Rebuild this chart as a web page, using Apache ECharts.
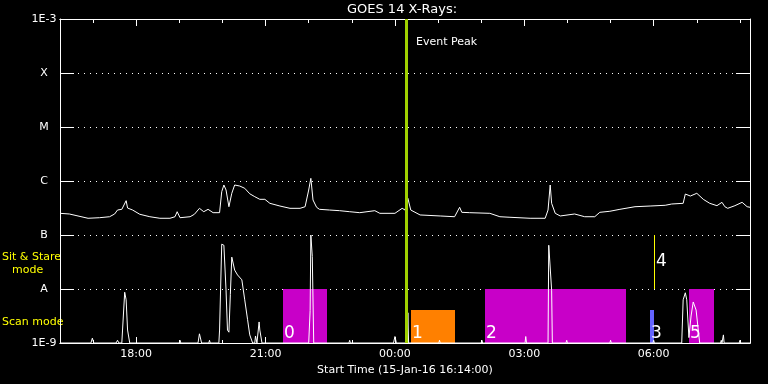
<!DOCTYPE html>
<html>
<head>
<meta charset="utf-8">
<script src="https://cdn.jsdelivr.net/npm/echarts@6/dist/echarts.min.js"></script>
<style>
html, body { margin: 0; padding: 0; background: #000; }
#main { width: 768px; height: 384px; }
</style>
</head>
<body>
<div id="main"></div>
<script>
// time window of the plot (15-Jan-16 16:14 -> 16-Jan-16 08:14)
const startTime = '16:14';
const endTime = '08:14';
const peakTime = '00:16';
const majorTicks = ['18:00', '21:00', '00:00', '03:00', '06:00'];
const hourTicks = ['17:00', '18:00', '19:00', '20:00', '21:00', '22:00', '23:00', '00:00',
    '01:00', '02:00', '03:00', '04:00', '05:00', '06:00', '07:00', '08:00'];
const levelLabels = ['1E-9', 'A', 'B', 'C', 'M', 'X', '1E-3'];

// GOES long channel flux (W/m2)
const fluxTimes = ['16:14', '16:27', '16:53', '17:09', '17:23', '17:30', '17:34', '17:40', '17:46', '17:48',
    '17:55', '18:05', '18:19', '18:33', '18:47', '18:54', '18:57', '19:01', '19:15', '19:21',
    '19:28', '19:34', '19:40', '19:47', '19:56', '19:59', '20:02', '20:05', '20:09', '20:13',
    '20:17', '20:24', '20:31', '20:38', '20:45', '20:52', '20:59', '21:06', '21:20', '21:34',
    '21:48', '21:55', '22:00', '22:03', '22:06', '22:11', '22:15', '22:29', '22:43', '22:57',
    '23:11', '23:32', '23:39', '00:00', '00:10', '00:14', '00:18', '00:22', '00:35', '01:03',
    '01:23', '01:30', '01:33', '01:44', '02:12', '02:26', '02:40', '03:08', '03:29', '03:33',
    '03:36', '03:38', '03:43', '03:50', '04:10', '04:24', '04:38', '04:45', '04:59', '05:13',
    '05:34', '05:55', '06:16', '06:25', '06:41', '06:44', '06:51', '07:00', '07:09', '07:18',
    '07:28', '07:35', '07:39', '07:43', '07:53', '08:03', '08:10', '08:14'];
const fluxValues = [2.52e-7, 2.45e-7, 2.04e-7, 2.09e-7, 2.18e-7, 2.45e-7, 2.90e-7, 2.99e-7, 4.32e-7, 3.16e-7,
    2.90e-7, 2.42e-7, 2.18e-7, 2.04e-7, 2.04e-7, 2.18e-7, 2.70e-7, 2.09e-7, 2.18e-7, 2.42e-7,
    3.12e-7, 2.70e-7, 2.99e-7, 2.59e-7, 2.59e-7, 6.34e-7, 8.43e-7, 6.81e-7, 3.34e-7, 5.92e-7,
    8.43e-7, 8.07e-7, 7.33e-7, 5.80e-7, 5.12e-7, 4.58e-7, 4.58e-7, 3.86e-7, 3.44e-7, 3.12e-7,
    3.12e-7, 3.34e-7, 6.81e-7, 1.12e-6, 4.45e-7, 3.26e-7, 2.99e-7, 2.90e-7, 2.82e-7, 2.70e-7,
    2.59e-7, 2.82e-7, 2.52e-7, 2.52e-7, 3.12e-7, 2.90e-7, 4.78e-7, 2.90e-7, 2.35e-7, 2.25e-7,
    2.18e-7, 3.26e-7, 2.63e-7, 2.59e-7, 2.52e-7, 2.18e-7, 2.13e-7, 2.04e-7, 2.04e-7, 2.90e-7,
    8.43e-7, 3.86e-7, 2.52e-7, 2.25e-7, 2.45e-7, 2.18e-7, 2.18e-7, 2.63e-7, 2.75e-7, 2.99e-7,
    3.34e-7, 3.44e-7, 3.55e-7, 3.75e-7, 3.86e-7, 5.74e-7, 5.27e-7, 5.92e-7, 4.58e-7, 3.86e-7,
    3.49e-7, 4.03e-7, 3.34e-7, 3.12e-7, 3.49e-7, 4.03e-7, 3.34e-7, 3.26e-7];

// lower trace, in decades above the 1E-9 floor
const lowTimes = ['16:14', '16:57', '16:59', '17:01', '17:32', '17:34', '17:36', '17:40', '17:41', '17:44',
    '17:46', '17:48', '17:51', '19:00', '19:01', '19:02', '19:26', '19:28', '19:31', '19:41',
    '19:42', '19:43', '19:55', '19:56', '19:59', '20:02', '20:05', '20:07', '20:09', '20:11',
    '20:13', '20:17', '20:21', '20:27', '20:31', '20:35', '20:38', '20:42', '20:45', '20:46',
    '20:48', '20:50', '20:51', '20:52', '20:55', '22:00', '22:02', '22:03', '22:05', '22:07',
    '22:56', '22:57', '22:58', '23:58', '00:00', '00:02', '00:17', '00:18', '00:19', '01:01',
    '01:02', '01:03', '02:00', '02:01', '02:02', '03:01', '03:02', '03:03', '03:33', '03:34',
    '03:36', '03:38', '03:39', '03:58', '03:59', '04:00', '04:59', '05:00', '05:01', '05:59',
    '06:00', '06:01', '06:39', '06:41', '06:44', '06:46', '06:49', '06:52', '06:55', '06:59',
    '07:02', '07:04', '07:33', '07:34', '07:35', '07:36', '07:37', '07:38', '07:59', '08:00',
    '08:01', '08:14'];
const lowValues = [0, 0, 0.09, 0, 0, 0.05, 0, 0, 0.24, 0.94,
    0.80, 0.24, 0, 0, 0.05, 0, 0, 0.17, 0, 0,
    0.05, 0, 0, 0.24, 1.83, 1.81, 0.98, 0.24, 0.2, 0.9,
    1.59, 1.35, 1.26, 1.17, 0.80, 0.43, 0.15, 0, 0, 0.13,
    0, 0, 0.39, 0.24, 0, 0, 0.6, 2.0, 1.6, 0,
    0, 0.05, 0, 0, 0.12, 0, 0, 0.56, 0, 0,
    0.05, 0, 0, 0.05, 0, 0, 0.12, 0, 0, 1.81,
    1.81, 0.98, 0, 0, 0.05, 0, 0, 0.05, 0, 0,
    0.05, 0, 0, 0.8, 0.93, 0.8, 0.1, 0.5, 0.76, 0.61,
    0.24, 0, 0, 0.05, 0, 0, 0.15, 0, 0, 0.05,
    0, 0];

// observing mode windows (0-5)
const modeStart = ['21:24', '00:22', '02:05', '05:55', '06:00', '06:49'];
const modeEnd = ['22:26', '01:24', '05:22', '06:00', '06:00', '07:24'];
const modeBottom = [0, 0, 0, 0, 1, 0];
const modeTop = [1, 0.61, 1, 0.61, 2, 1];
const modeLabels = ['0', '1', '2', '3', '4', '5'];
const modeColors = ['#c800c8', '#ff8000', '#c800c8', '#6464ff', '#ffff00', '#c800c8'];

const font = 'DejaVu Sans';

function t(s) {
    const p = s.split(':');
    const h = +p[0];
    const day = h < 16 ? 16 : 15;
    return Date.UTC(2016, 0, day, h, +p[1]);
}
function hhmm(v) {
    const d = new Date(v);
    return String(d.getUTCHours()).padStart(2, '0') + ':' + String(d.getUTCMinutes()).padStart(2, '0');
}
function timeAxis(position, ticks, len, labels) {
    return {
        type: 'value',
        position: position,
        min: t(startTime),
        max: t(endTime),
        axisLine: { show: true, lineStyle: { color: '#fff', width: 1 } },
        axisTick: { show: true, inside: true, length: len, customValues: ticks.map(t), lineStyle: { color: '#fff' } },
        axisLabel: labels ? {
            show: true, customValues: ticks.map(t), formatter: hhmm,
            color: '#fff', fontFamily: font, fontSize: 11, margin: 6
        } : { show: false },
        splitLine: { show: false }
    };
}

const chart = echarts.init(document.getElementById('main'));

const bottomMajor = timeAxis('bottom', majorTicks, 6, true);
bottomMajor.name = 'Start Time (15-Jan-16 16:14:00)';
bottomMajor.nameLocation = 'middle';
bottomMajor.nameGap = 20;
bottomMajor.nameTextStyle = { color: '#fff', fontFamily: font, fontSize: 11 };

const option = {
    backgroundColor: '#000',
    animation: false,
    grid: { left: 60, right: 18, top: 19, bottom: 41 },
    graphic: [
        { type: 'text', x: 402, y: 3, style: { text: 'GOES 14 X-Rays:', fill: '#fff', font: '13px ' + font, align: 'center' } },
        { type: 'text', left: 2, top: 252, style: { text: 'Sit & Stare', fill: '#ffff00', font: '11px ' + font } },
        { type: 'text', left: 12, top: 265, style: { text: 'mode', fill: '#ffff00', font: '11px ' + font } },
        { type: 'text', left: 2, top: 317, style: { text: 'Scan mode', fill: '#ffff00', font: '11px ' + font } },
        { type: 'text', left: 416, top: 37, style: { text: 'Event Peak', fill: '#ffffff', font: '11px ' + font } }
    ],
    xAxis: [
        bottomMajor,
        timeAxis('bottom', hourTicks, 3, false),
        timeAxis('top', majorTicks, 7, false),
        timeAxis('top', hourTicks, 4, false)
    ],
    yAxis: [
        {
            type: 'log', logBase: 10, min: 1e-9, max: 1e-3, splitNumber: 6, position: 'left',
            axisLine: { show: true, lineStyle: { color: '#fff' } },
            axisTick: { show: true, inside: true, length: 14, lineStyle: { color: '#fff' } },
            axisLabel: {
                color: '#fff', fontFamily: font, fontSize: 11, align: 'center', margin: 16,
                formatter: function (v) { return levelLabels[Math.round(Math.log10(v)) + 9]; }
            },
            splitLine: { show: true, lineStyle: { color: '#fff', type: [1, 5], width: 1 } }
        },
        {
            type: 'log', logBase: 10, min: 1e-9, max: 1e-3, splitNumber: 6, position: 'right',
            axisLine: { show: true, lineStyle: { color: '#fff' } },
            axisTick: { show: true, inside: true, length: 14, lineStyle: { color: '#fff' } },
            axisLabel: { show: false },
            splitLine: { show: false }
        },
        { type: 'value', min: 0, max: 6, show: false }
    ],
    series: [
        {
            type: 'custom',
            xAxisIndex: 0,
            yAxisIndex: 2,
            silent: true,
            encode: { x: [0, 1], y: [2, 3] },
            data: modeStart.map((s, i) => [t(s), t(modeEnd[i]), modeBottom[i], modeTop[i], i]),
            renderItem: function (params, api) {
                const i = api.value(4);
                const p0 = api.coord([api.value(0), api.value(2)]);
                const p1 = api.coord([api.value(1), api.value(3)]);
                const x0 = Math.round(p0[0]);
                const w = Math.max(Math.round(p1[0]) - x0, 1);
                const children = [{
                    type: 'rect',
                    shape: { x: x0, y: Math.round(p1[1]), width: w, height: Math.round(p0[1]) - Math.round(p1[1]) },
                    style: { fill: modeColors[i] }
                }];
                const lifted = api.value(2) > 0;
                children.push({
                    type: 'text',
                    style: {
                        text: modeLabels[i],
                        x: lifted ? x0 + 2 : x0 + 1,
                        y: lifted ? (p0[1] + p1[1]) / 2 : p0[1] - 1,
                        fill: '#fff',
                        font: '17px ' + font,
                        align: 'left',
                        verticalAlign: lifted ? 'middle' : 'bottom'
                    }
                });
                return { type: 'group', children: children };
            }
        },
        {
            type: 'line',
            xAxisIndex: 0,
            yAxisIndex: 2,
            showSymbol: false,
            silent: true,
            lineStyle: { color: '#fff', width: 1 },
            data: lowTimes.map((s, i) => [t(s), lowValues[i]])
        },
        {
            type: 'line',
            xAxisIndex: 0,
            yAxisIndex: 0,
            showSymbol: false,
            silent: true,
            lineStyle: { color: '#fff', width: 1 },
            data: fluxTimes.map((s, i) => [t(s), fluxValues[i]]),
            markLine: {
                silent: true,
                symbol: 'none',
                label: { show: false },
                lineStyle: { color: '#a0d000', width: 3, type: 'solid' },
                data: [{ xAxis: t(peakTime) }]
            }
        }
    ]
};
chart.setOption(option);
</script>
</body>
</html>
